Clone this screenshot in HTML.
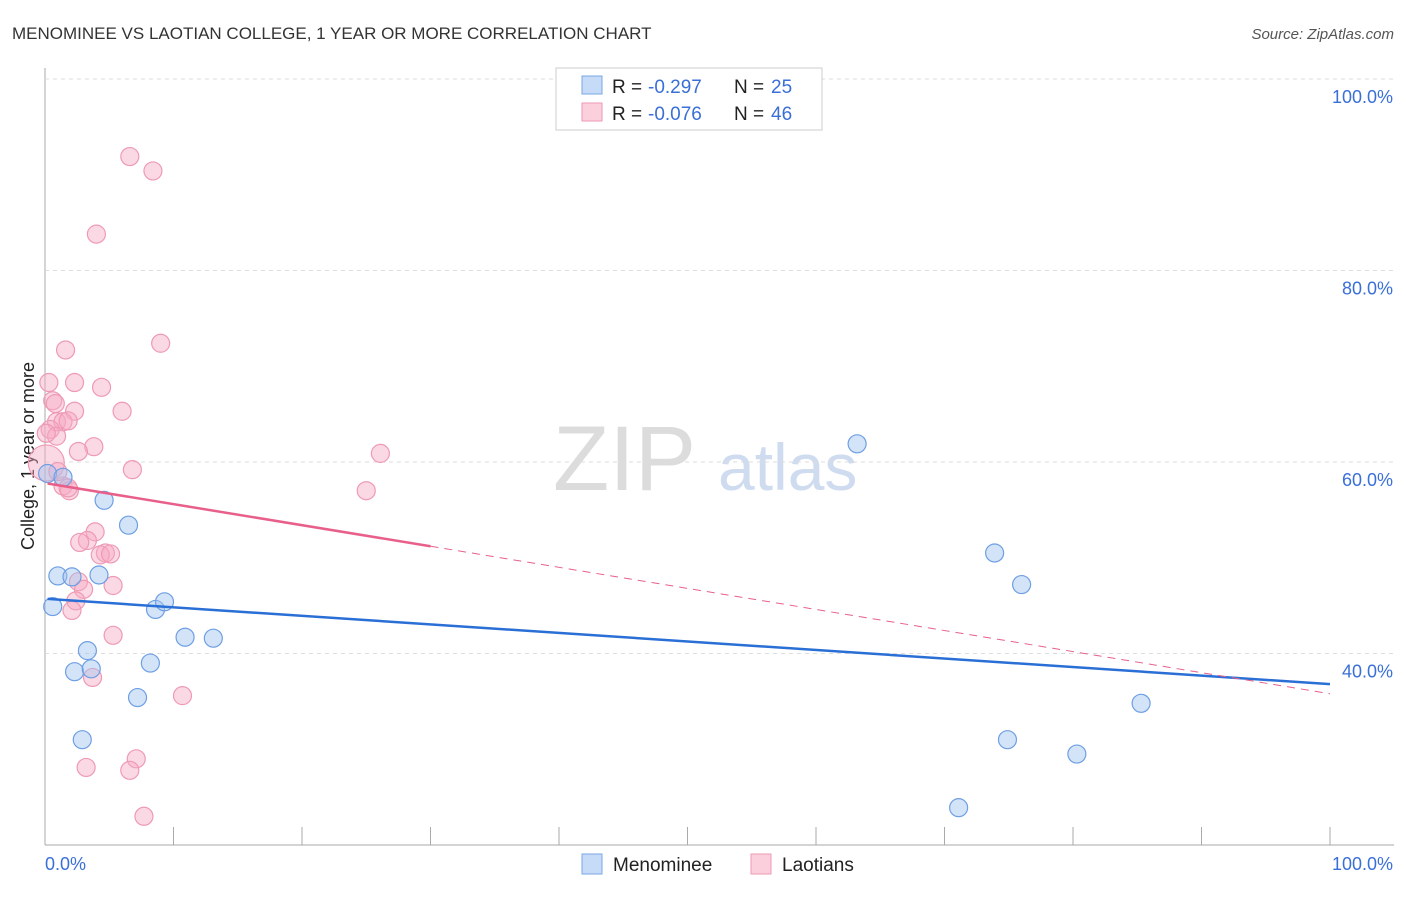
<!DOCTYPE html>
<html><head><meta charset="utf-8"><style>
body{margin:0;background:#fff;font-family:"Liberation Sans",sans-serif}
svg text{font-family:"Liberation Sans",sans-serif}
</style></head><body>
<svg width="1406" height="892" id="c">
<text x="12" y="39" font-size="17" fill="#333">MENOMINEE VS LAOTIAN COLLEGE, 1 YEAR OR MORE CORRELATION CHART</text>
<text x="1394" y="39" font-size="15" fill="#555" font-style="italic" text-anchor="end">Source: ZipAtlas.com</text>
<text x="553" y="490" font-size="92" fill="#dcdcdc" font-family="Liberation Serif">ZIP</text>
<text x="718" y="490" font-size="66" fill="#cfdcf0">atlas</text>
<text x="34" y="456" font-size="18" fill="#222" transform="rotate(-90 34 456)" text-anchor="middle">College, 1 year or more</text>
<g id="grid"></g><g id="pts"></g><g id="lines"></g>
<g>
<rect x="556" y="68" width="266" height="62" fill="#fff" stroke="#ccc"/>
<rect x="582" y="76" width="20" height="18" fill="#c6dbf7" stroke="#7aa7e6"/>
<rect x="582" y="103" width="20" height="18" fill="#fbd0dc" stroke="#ef9ab4"/>
<text x="612" y="93" font-size="19" fill="#222">R =</text>
<text x="648" y="93" font-size="19" fill="#3a6fd8">-0.297</text>
<text x="734" y="93" font-size="19" fill="#222">N =</text>
<text x="771" y="93" font-size="19" fill="#3a6fd8">25</text>
<text x="612" y="120" font-size="19" fill="#222">R =</text>
<text x="648" y="120" font-size="19" fill="#3a6fd8">-0.076</text>
<text x="734" y="120" font-size="19" fill="#222">N =</text>
<text x="771" y="120" font-size="19" fill="#3a6fd8">46</text>
</g>
<g>
<rect x="582" y="854" width="20" height="20" fill="#c6dbf7" stroke="#7aa7e6"/>
<text x="613" y="871" font-size="19" fill="#222">Menominee</text>
<rect x="751" y="854" width="20" height="20" fill="#fbd0dc" stroke="#ef9ab4"/>
<text x="782" y="871" font-size="19" fill="#222">Laotians</text>
</g>
<text x="45" y="870" font-size="18" fill="#3a6fd8">0.0%</text>
<text x="1393" y="870" font-size="18" fill="#3a6fd8" text-anchor="end">100.0%</text>
</svg>
<script>
const yTicks=[100,80,60,40];
const xTicks=[0,10,20,30,40,50,60,70,80,90,100];
const blueX=[0.2,1.4,4.6,6.5,1.0,2.1,4.2,0.6,8.6,9.3,10.9,13.1,3.3,2.3,3.6,8.2,7.2,2.9,63.2,73.9,76.0,85.3,74.9,80.3,71.1];
const blueY=[58.8,58.4,56.0,53.4,48.1,48.0,48.2,44.9,44.6,45.4,41.7,41.6,40.3,38.1,38.4,39.0,35.4,31.0,61.9,50.5,47.2,34.8,31.0,29.5,23.9];
const pinkX=[6.6,8.4,4.0,9.0,1.6,0.3,2.3,4.4,0.6,2.3,6.0,0.9,1.4,1.8,0.4,0.9,3.8,2.6,26.1,6.8,0.1,1.4,1.9,1.8,25.0,3.9,3.3,2.7,4.7,4.3,5.1,2.6,3.0,5.3,2.4,2.1,5.3,10.7,3.7,7.1,3.2,6.6,7.7,0.8,0.1,1.0];
const pinkY=[91.9,90.4,83.8,72.4,71.7,68.3,68.3,67.8,66.4,65.3,65.3,64.2,64.2,64.3,63.4,62.7,61.6,61.1,60.9,59.2,59.9,57.5,57.0,57.3,57.0,52.7,51.8,51.6,50.5,50.3,50.4,47.5,46.7,47.1,45.5,44.5,41.9,35.6,37.5,29.0,28.1,27.8,23.0,66.1,63.0,59.0];
const blueLine=[45.7,36.8];
const pinkLine=[57.8,35.8];
const X=v=>45+v*12.85, Y=v=>79+(100-v)*9.575;
const NS='http://www.w3.org/2000/svg';
function mk(t,a,p){const e=document.createElementNS(NS,t);for(const k in a)e.setAttribute(k,a[k]);document.getElementById(p).appendChild(e);return e;}
const g='grid';
const ax=mk('line',{x1:45,y1:68,x2:45,y2:845,stroke:'#aaa'},g);


const bx=mk('line',{x1:45,y1:845,x2:1394,y2:845,stroke:'#aaa'},g);


yTicks.forEach(t=>{const l=mk('line',{x1:45,y1:Y(t),x2:1394,y2:Y(t),stroke:'#ddd','stroke-dasharray':'4,4'},g);


const tx=mk('text',{x:1393,y:Y(t)+24,'font-size':18,fill:'#3a6fd8','text-anchor':'end'},g);tx.textContent=t.toFixed(1)+'%';

});
xTicks.forEach(t=>{const l=mk('line',{x1:X(t),y1:827,x2:X(t),y2:845,stroke:'#aaa'},g);

});
pinkX.forEach((x,i)=>{const c=mk('circle',{cx:X(x),cy:Y(pinkY[i]),r:i==20?18:9,fill:'rgba(246,170,195,0.45)',stroke:'#ef9ab4','stroke-width':1.2},'pts');

});
blueX.forEach((x,i)=>{const c=mk('circle',{cx:X(x),cy:Y(blueY[i]),r:9,fill:'rgba(160,196,240,0.45)',stroke:'#6e9fe3','stroke-width':1.2},'pts');

});
const bl=mk('line',{x1:X(0.2),y1:Y(blueLine[0]),x2:X(100),y2:Y(blueLine[1]),stroke:'#2a6fd6','stroke-width':2.5},'lines');


const pf=v=>pinkLine[0]+(pinkLine[1]-pinkLine[0])*v/100;
const p1=mk('line',{x1:X(0.2),y1:Y(pf(0.2)),x2:X(30),y2:Y(pf(30)),stroke:'#e8608a','stroke-width':2.5},'lines');


const p2=mk('line',{x1:X(30),y1:Y(pf(30)),x2:X(100),y2:Y(pf(100)),stroke:'#e8608a','stroke-width':1,'stroke-dasharray':'8,6'},'lines');


</script>
</body></html>
